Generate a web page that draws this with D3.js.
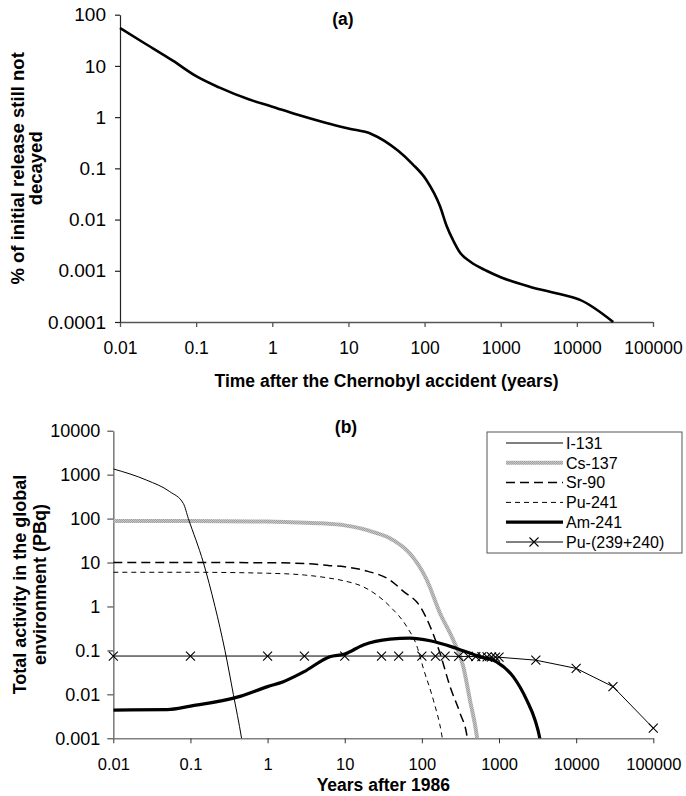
<!DOCTYPE html>
<html>
<head>
<meta charset="utf-8">
<script src="https://cdnjs.cloudflare.com/ajax/libs/d3/7.8.5/d3.min.js"></script>
<style>
  body { margin: 0; background: #fff; }
  svg { font-family: Arial, "Liberation Sans", sans-serif; }
</style>
</head>
<body>
<svg id="chart"></svg>
<script>
// ---- panel (a): fraction of release not yet decayed
const yearsA = [0.01, 0.02, 0.05, 0.1, 0.2, 0.5, 1, 2, 5, 10, 20, 45, 70, 105, 160, 195, 240, 290, 400, 650, 1000, 2400, 6500, 11000, 30000];
const percentA = [55, 29, 12.5, 6.3, 3.8, 2.2, 1.6, 1.15, 0.78, 0.6, 0.47, 0.22, 0.12, 0.06, 0.018, 0.0075, 0.0038, 0.0023, 0.0015, 0.001, 0.00075, 0.00049, 0.00034, 0.00027, 0.0001];

const xTicksA = [0.01, 0.1, 1, 10, 100, 1000, 10000, 100000];
const xLabelsA = ['0.01', '0.1', '1', '10', '100', '1000', '10000', '100000'];
const yTicksA = [0.0001, 0.001, 0.01, 0.1, 1, 10, 100];
const yLabelsA = ['0.0001', '0.001', '0.01', '0.1', '1', '10', '100'];

// ---- panel (b): activity per nuclide (PBq)
const i131Years = [0.01, 0.027, 0.054, 0.081, 0.094, 0.147, 0.208, 0.28, 0.36, 0.46, 0.5];
const i131Values = [1350, 750, 410, 220, 100, 10, 1, 0.1, 0.01, 0.001, 0.0004];

const cs137Years = [0.01, 0.1, 1, 2, 5, 10, 23, 43, 70, 116, 172, 256, 344, 420, 513, 540];
const cs137Values = [88, 88, 86, 83, 78, 70, 50, 32, 16, 4, 0.7, 0.17, 0.043, 0.0074, 0.0012, 0.0006];

const sr90Years = [0.01, 0.1, 1, 3, 6.4, 10, 20, 38.6, 57.7, 95, 128, 172, 232, 313, 382, 400];
const sr90Values = [10, 10, 9.9, 9.5, 8.5, 8, 6.3, 4, 2.2, 1.0, 0.35, 0.086, 0.015, 0.0037, 0.0012, 0.0007];

const pu241Years = [0.01, 0.1, 1, 3, 6.4, 10, 17.4, 38.6, 63.5, 86, 105, 141, 181, 190];
const pu241Values = [6, 6, 5.7, 5.2, 4.4, 3.8, 2.8, 1.0, 0.35, 0.126, 0.038, 0.0074, 0.0012, 0.0007];

const am241Years = [0.01, 0.05, 0.1, 0.44, 1, 1.6, 3, 6.4, 10, 17.4, 38.6, 70, 128, 282, 562, 930, 1535, 2290, 2930, 3380, 3500];
const am241Values = [0.0044, 0.0045, 0.0054, 0.009, 0.015, 0.0194, 0.033, 0.072, 0.083, 0.133, 0.18, 0.19, 0.166, 0.111, 0.072, 0.055, 0.025, 0.0074, 0.0026, 0.001, 0.0007];

const pu239Years = [0.01, 0.1, 1, 3, 10, 30, 50, 100, 150, 200, 300, 400, 500, 600, 700, 800, 900, 1000, 3000, 10000, 30000, 100000];
const pu239Values = [0.0745, 0.0745, 0.0745, 0.0745, 0.0745, 0.0745, 0.0745, 0.0745, 0.0745, 0.074, 0.073, 0.073, 0.072, 0.072, 0.071, 0.071, 0.07, 0.07, 0.06, 0.039, 0.015, 0.0017];

const seriesNames = ['I-131', 'Cs-137', 'Sr-90', 'Pu-241', 'Am-241', 'Pu-(239+240)'];

const xTicksB = [0.01, 0.1, 1, 10, 100, 1000, 10000, 100000];
const xLabelsB = ['0.01', '0.1', '1', '10', '100', '1000', '10000', '100000'];
const yTicksB = [0.001, 0.01, 0.1, 1, 10, 100, 1000, 10000];
const yLabelsB = ['0.001', '0.01', '0.1', '1', '10', '100', '1000', '10000'];

const width = 686, height = 796;
const svg = d3.select('#chart').attr('width', width).attr('height', height);
const defs = svg.append('defs');

// textured grey stroke for Cs-137
const tex = defs.append('pattern')
  .attr('id', 'csTex')
  .attr('patternUnits', 'userSpaceOnUse')
  .attr('width', 2).attr('height', 2);
tex.append('rect').attr('width', 2).attr('height', 2).attr('fill', '#c8c8c8');
tex.append('rect').attr('width', 1).attr('height', 1).attr('fill', '#a0a0a0');
tex.append('rect').attr('x', 1).attr('y', 1).attr('width', 1).attr('height', 1).attr('fill', '#a0a0a0');

function labelFor(ticks, labels) {
  return d => labels[ticks.indexOf(d)];
}

function styleAxis(g, color, width) {
  g.select('.domain').attr('stroke', color).attr('stroke-width', width);
  g.selectAll('.tick line').attr('stroke', color).attr('stroke-width', width);
  g.selectAll('.tick text').attr('fill', '#000');
}

// ================= panel (a)
const xA = d3.scaleLog().domain([0.01, 100000]).range([120, 653]);
const yA = d3.scaleLog().domain([0.0001, 100]).range([322, 14.7]);

const axA_x = svg.append('g')
  .attr('transform', `translate(0,${yA.range()[0]})`)
  .call(d3.axisBottom(xA).tickValues(xTicksA).tickFormat(labelFor(xTicksA, xLabelsA))
    .tickSize(5).tickSizeOuter(0).tickPadding(15));
axA_x.selectAll('.tick text').attr('font-size', 17.5);
styleAxis(axA_x, '#555', 1.3);

const axA_y = svg.append('g')
  .attr('transform', `translate(${xA.range()[0]},0)`)
  .call(d3.axisLeft(yA).tickValues(yTicksA).tickFormat(labelFor(yTicksA, yLabelsA))
    .tickSize(5).tickSizeOuter(0).tickPadding(9));
axA_y.selectAll('.tick text').attr('font-size', 19);
styleAxis(axA_y, '#222', 1.2);

svg.append('path')
  .datum(yearsA.map((t, i) => [t, percentA[i]]))
  .attr('fill', 'none')
  .attr('stroke', '#000')
  .attr('stroke-width', 2.6)
  .attr('stroke-linejoin', 'round')
  .attr('d', d3.line().x(d => xA(d[0])).y(d => yA(d[1])).curve(d3.curveMonotoneX));

svg.append('text')
  .attr('x', 343).attr('y', 25)
  .attr('text-anchor', 'middle')
  .attr('font-weight', 'bold').attr('font-size', 17.5)
  .text('(a)');

svg.append('text')
  .attr('x', (xA.range()[0] + xA.range()[1]) / 2).attr('y', 387)
  .attr('text-anchor', 'middle')
  .attr('font-weight', 'bold').attr('font-size', 17.5)
  .text('Time after the Chernobyl accident (years)');

const yTitleA = svg.append('text')
  .attr('transform', `translate(0,${(yA.range()[0] + yA.range()[1]) / 2}) rotate(-90)`)
  .attr('text-anchor', 'middle')
  .attr('font-weight', 'bold').attr('font-size', 18.5);
yTitleA.append('tspan').attr('x', 0).attr('y', 24).text('% of initial release still not');
yTitleA.append('tspan').attr('x', 0).attr('y', 42).text('decayed');

// ================= panel (b)
const xB = d3.scaleLog().domain([0.01, 100000]).range([113.3, 653.3]);
const yB = d3.scaleLog().domain([0.001, 10000]).range([738.3, 430.7]);

defs.append('clipPath').attr('id', 'clipB')
  .append('rect')
  .attr('x', xB.range()[0]).attr('y', yB.range()[1] - 10)
  .attr('width', xB.range()[1] - xB.range()[0] + 12)
  .attr('height', yB.range()[0] - yB.range()[1] + 10);

const axB_x = svg.append('g')
  .attr('transform', `translate(0,${yB.range()[0]})`)
  .call(d3.axisBottom(xB).tickValues(xTicksB).tickFormat(labelFor(xTicksB, xLabelsB))
    .tickSize(5).tickSizeOuter(0).tickPadding(15));
axB_x.selectAll('.tick text').attr('font-size', 16.5);
styleAxis(axB_x, '#808080', 1.6);
axB_x.selectAll('.tick line').attr('stroke', '#333').attr('stroke-width', 1);

const axB_y = svg.append('g')
  .attr('transform', `translate(${xB.range()[0]},0)`)
  .call(d3.axisLeft(yB).tickValues(yTicksB).tickFormat(labelFor(yTicksB, yLabelsB))
    .tickSize(6).tickSizeOuter(0).tickPadding(7));
axB_y.selectAll('.tick text').attr('font-size', 18);
styleAxis(axB_y, '#808080', 1.6);
axB_y.selectAll('.tick line').attr('stroke', '#333').attr('stroke-width', 1);

const styles = [
  { years: i131Years, values: i131Values, stroke: '#000', width: 1, dash: null, curve: d3.curveMonotoneX },
  { years: cs137Years, values: cs137Values, stroke: 'url(#csTex)', width: 4, dash: null, curve: d3.curveMonotoneX },
  { years: sr90Years, values: sr90Values, stroke: '#000', width: 1.5, dash: '9,5', curve: d3.curveMonotoneX },
  { years: pu241Years, values: pu241Values, stroke: '#000', width: 1, dash: '5,4', curve: d3.curveMonotoneX },
  { years: am241Years, values: am241Values, stroke: '#000', width: 3.2, dash: null, curve: d3.curveMonotoneX },
  { years: pu239Years, values: pu239Values, stroke: '#000', width: 1, dash: null, curve: d3.curveLinear }
];

const plotB = svg.append('g').attr('clip-path', 'url(#clipB)');
const drawOrder = [3, 2, 1, 5, 4, 0];
drawOrder.forEach(k => {
  const s = styles[k];
  plotB.append('path')
    .datum(s.years.map((t, i) => [t, s.values[i]]))
    .attr('fill', 'none')
    .attr('stroke', s.stroke)
    .attr('stroke-width', s.width)
    .attr('stroke-dasharray', s.dash)
    .attr('d', d3.line().x(d => xB(d[0])).y(d => yB(d[1])).curve(s.curve));
});

const cross = 4.5;
function drawCross(g, cx, cy) {
  g.append('path')
    .attr('d', `M${cx - cross},${cy - cross}L${cx + cross},${cy + cross}M${cx - cross},${cy + cross}L${cx + cross},${cy - cross}`)
    .attr('stroke', '#000').attr('stroke-width', 1.1).attr('fill', 'none');
}
pu239Years.forEach((t, i) => drawCross(svg, xB(t), yB(pu239Values[i])));

svg.append('text')
  .attr('x', 346).attr('y', 433)
  .attr('text-anchor', 'middle')
  .attr('font-weight', 'bold').attr('font-size', 17.5)
  .text('(b)');

svg.append('text')
  .attr('x', (xB.range()[0] + xB.range()[1]) / 2).attr('y', 791)
  .attr('text-anchor', 'middle')
  .attr('font-weight', 'bold').attr('font-size', 17.5)
  .text('Years after 1986');

const yTitleB = svg.append('text')
  .attr('transform', `translate(0,${(yB.range()[0] + yB.range()[1]) / 2}) rotate(-90)`)
  .attr('text-anchor', 'middle')
  .attr('font-weight', 'bold').attr('font-size', 18);
yTitleB.append('tspan').attr('x', 0).attr('y', 26).text('Total activity in the global');
yTitleB.append('tspan').attr('x', 0).attr('y', 46).text('environment (PBq)');

// legend
const legend = svg.append('g').attr('transform', 'translate(487,432)');
legend.append('rect')
  .attr('width', 195).attr('height', 121)
  .attr('fill', '#fff').attr('stroke', '#555').attr('stroke-width', 1);
seriesNames.forEach((name, i) => {
  const s = styles[i];
  const cy = 11 + i * 19.8;
  legend.append('line')
    .attr('x1', 19).attr('x2', 76).attr('y1', cy).attr('y2', cy)
    .attr('stroke', s.stroke).attr('stroke-width', s.width)
    .attr('stroke-dasharray', s.dash);
  if (i === 5) drawCross(legend, 47, cy);
  legend.append('text')
    .attr('x', 79).attr('y', cy).attr('dy', '0.36em')
    .attr('font-size', 16)
    .text(name);
});
</script>
</body>
</html>
